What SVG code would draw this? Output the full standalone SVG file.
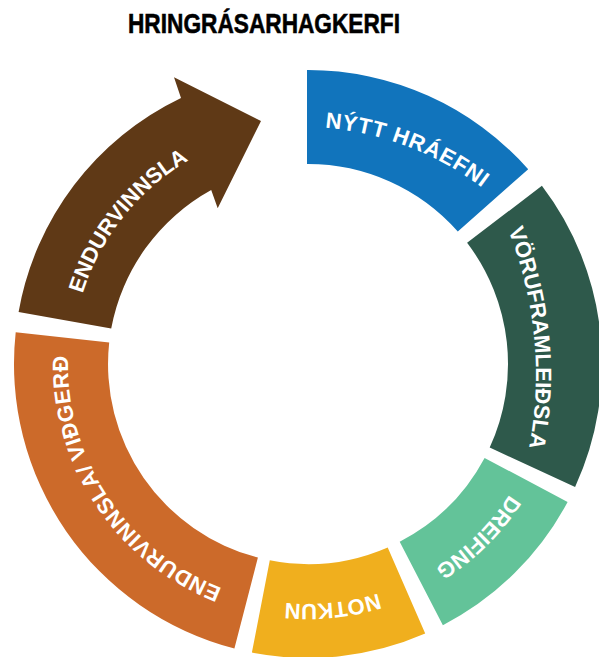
<svg xmlns="http://www.w3.org/2000/svg" width="599" height="657" viewBox="0 0 599 657">
<style>
.title{font-family:"Liberation Sans",Arial,sans-serif;font-weight:bold;font-size:28.5px;fill:#000;stroke:#000;stroke-width:0.6px}
.lbl{font-family:"Liberation Sans",Arial,sans-serif;font-weight:bold;font-size:22px;fill:#fff}
</style>
<defs>
<path id="p-blue" d="M252.1,130.3 A303,303 0 0 1 535,238.9"/>
<path id="p-dgreen" d="M463,147.3 A392,392 0 0 1 500.6,537.5"/>
<path id="p-lgreen" d="M539.3,428.1 A240,240 0 0 1 368.1,596.3"/>
<path id="p-yellow" d="M448.4,558.7 A240,240 0 0 1 209.6,582.9"/>
<path id="p-orange" d="M322.6,603.5 A240,240 0 0 1 93.2,256.9"/>
<path id="p-brown" d="M88.4,450.5 A236,236 0 0 1 342.9,130.6"/>
</defs>
<rect width="599" height="657" fill="#fff"/>
<text class="title" x="128" y="33.3" textLength="272" lengthAdjust="spacingAndGlyphs">HRINGRÁSARHAGKERFI</text>

<g id="node-nytt-hraefni">
<path d="M307,70 A294,294 0 0 1 528.2,169.2 L457.8,231.5 A200,200 0 0 0 307,164 Z" fill="#1174BC"/>
<text class="lbl" letter-spacing="0.8"><textPath href="#p-blue" startOffset="50%" text-anchor="middle">NÝTT HRÁEFNI</textPath></text>
</g>
<g id="node-voruframleidsla">
<path d="M541.9,185.8 A294,294 0 0 1 575.1,486.9 L489.7,447.6 A200,200 0 0 0 467.1,242.8 Z" fill="#2E594B"/>
<text class="lbl"><textPath href="#p-dgreen" startOffset="50%" text-anchor="middle">VÖRUFRAMLEIÐSLA</textPath></text>
</g>
<g id="node-dreifing">
<path d="M567.6,502 A294,294 0 0 1 442.9,625.2 L399.7,541.7 A200,200 0 0 0 484.6,457.9 Z" fill="#63C399"/>
<text class="lbl"><textPath href="#p-lgreen" startOffset="50%" text-anchor="middle">DREIFING</textPath></text>
</g>
<g id="node-notkun">
<path d="M425.2,633.6 A294,294 0 0 1 251.9,652.6 L269.8,560.3 A200,200 0 0 0 387.7,547.4 Z" fill="#F0AF1E"/>
<text class="lbl"><textPath href="#p-yellow" startOffset="50%" text-anchor="middle">NOTKUN</textPath></text>
</g>
<g id="node-endurvinnsla-vidgerd">
<path d="M234.4,648.6 A294,294 0 0 1 15.7,332.2 L109.2,342.4 A200,200 0 0 0 257.9,557.6 Z" fill="#CC6A2A"/>
<text class="lbl" letter-spacing="0.5"><textPath href="#p-orange" startOffset="50%" text-anchor="middle">ENDURVINNSLA/ VIÐGERÐ</textPath></text>
</g>
<g id="node-endurvinnsla">
<path d="M18.6,311.9 A294,294 0 0 1 181,98 L174,77.3 L261,121 L217.7,208.3 L211.2,190 A200,200 0 0 0 111.2,328.6 Z" fill="#5F3916"/>
<text class="lbl"><textPath href="#p-brown" startOffset="50%" text-anchor="middle">ENDURVINNSLA</textPath></text>
</g>
<g id="connectors"></g>
</svg>
